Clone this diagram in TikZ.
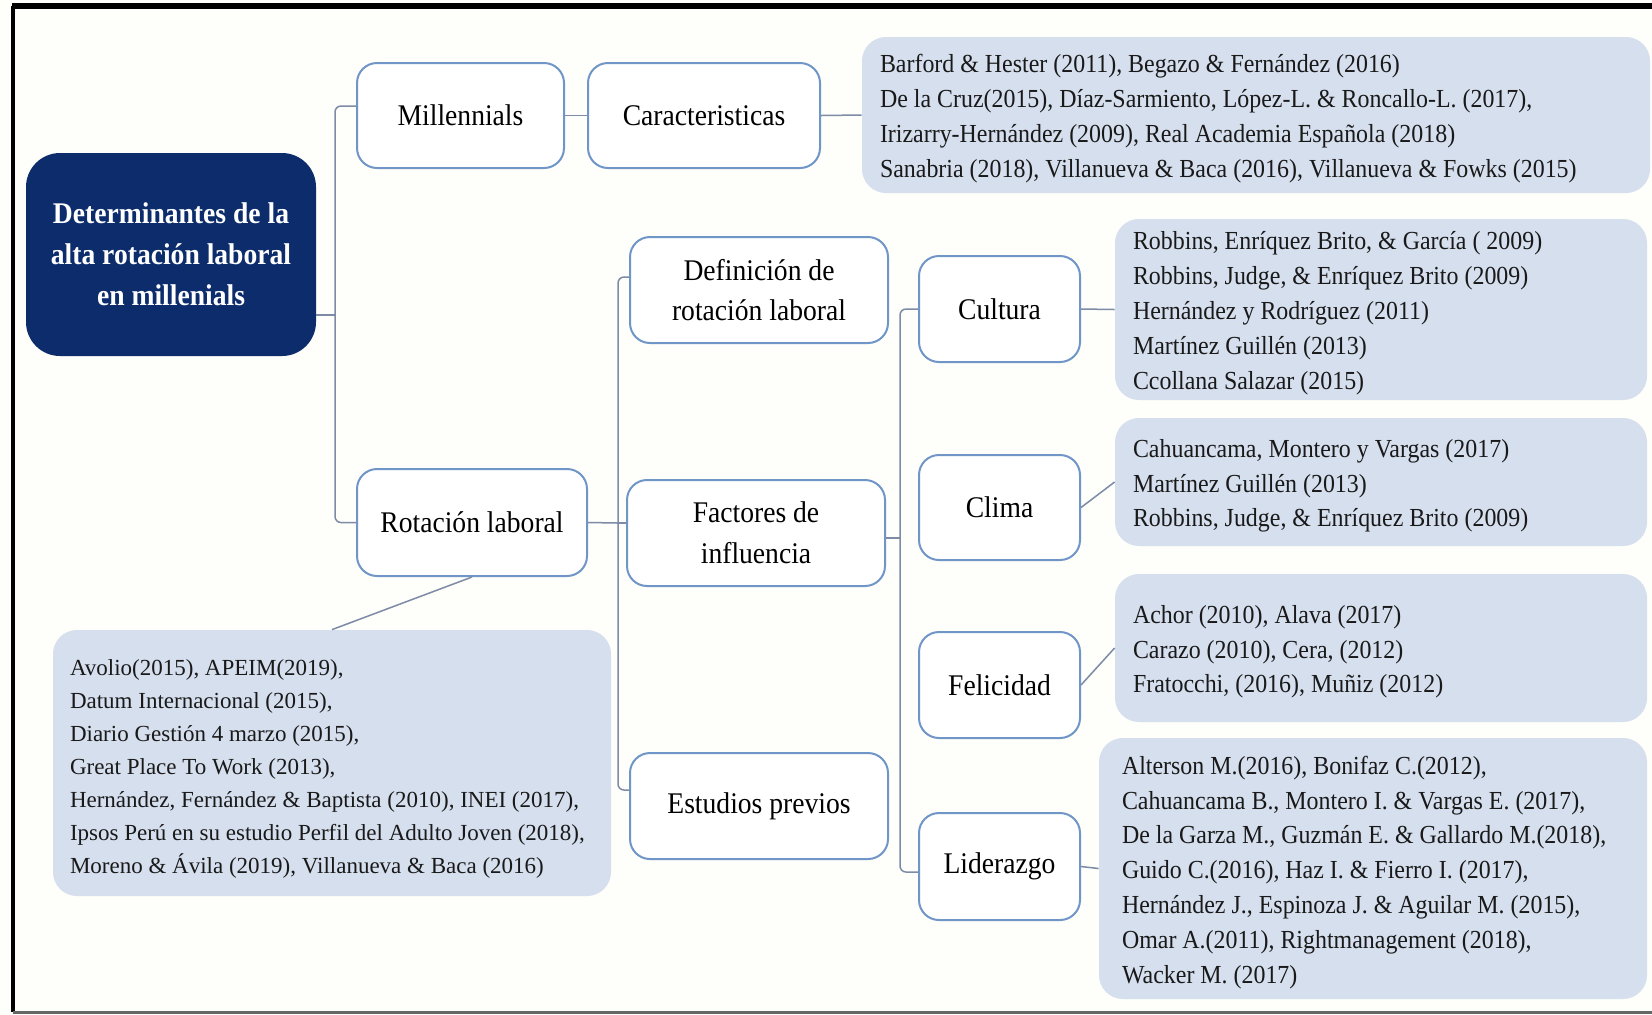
\documentclass[tikz,border=0pt]{standalone}
\usepackage{fontspec}
\setmainfont{Liberation Serif}
\newfontfamily\boxfont[FakeStretch=0.92]{Liberation Serif}
\newfontfamily\reffont[FakeStretch=0.92]{Liberation Serif}
\definecolor{bgcol}{HTML}{FEFEFA}
\definecolor{nodeblue}{HTML}{7096C8}
\definecolor{rootblue}{HTML}{0C2C6C}
\definecolor{reffill}{HTML}{D6DFEE}
\definecolor{conncol}{HTML}{7D8BA6}
\begin{document}
\begin{tikzpicture}[x=0.5pt,y=-0.5pt,
  sz/.style 2 args={minimum width=#1*0.5pt, minimum height=#2*0.5pt},
  box/.style={draw=nodeblue, line width=1pt, fill=white, rounded corners=10pt,
    align=center, inner sep=0pt, font=\boxfont\fontsize{15}{20.3}\selectfont},
  rootbox/.style={fill=rootblue, rounded corners=17pt, align=center, inner sep=0pt,
    text=white, font=\boxfont\bfseries\fontsize{15}{20.5}\selectfont},
  refbox/.style={fill=reffill, rounded corners=12pt, inner sep=0pt},
  reftext/.style={anchor=west, align=left, inner sep=0pt, text=black!90,
    font=\reffont\fontsize{13}{17.4}\selectfont},
  reftextb/.style={anchor=west, align=left, inner sep=0pt, text=black!90,
    font=\fontsize{11.5}{16.5}\selectfont},
  conn/.style={draw=conncol, line width=0.75pt}]
\useasboundingbox (0,0) rectangle (1652,1014);
\fill[bgcol] (0,0) rectangle (1652,1014);
% frame
\draw[line width=2pt, black] (13,1012) -- (13,6);
\draw[line width=2.75pt, black] (12,6) -- (1652,6);
\draw[line width=1.5pt, black!60] (13,1012) -- (1652,1012);

% nodes
\node[rootbox, sz={290}{203}] (root) at (171,254.5) {Determinantes de la\\alta rotación laboral\\en millenials};
\node[box, sz={207}{105}] (mil) at (460.5,115.5) {Millennials};
\node[box, sz={232}{105}] (car) at (704,115.5) {Caracteristicas};
\node[refbox, sz={788}{156}] (carref) at (1256,115) {};
\node[reftext] (carreft) at ([xshift=9pt,yshift=-1.9pt]carref.west)
  {Barford \& Hester (2011), Begazo \& Fernández (2016)\\De la Cruz(2015), Díaz-Sarmiento, López-L. \& Roncallo-L. (2017),\\Irizarry-Hernández (2009), Real Academia Española (2018)\\Sanabria (2018), Villanueva \& Baca (2016), Villanueva \& Fowks (2015)};
\node[box, sz={230}{107}] (rot) at (472,522.5) {Rotación laboral};
\node[refbox, sz={558}{266}] (rotref) at (332,763) {};
\node[reftextb] (rotreft) at ([xshift=8.5pt,yshift=-3.2pt]rotref.west)
  {Avolio(2015), APEIM(2019),\\Datum Internacional (2015),\\Diario Gestión 4 marzo (2015),\\Great Place To Work (2013),\\Hernández, Fernández \& Baptista (2010), INEI (2017),\\Ipsos Perú en su estudio Perfil del Adulto Joven (2018),\\Moreno \& Ávila (2019), Villanueva \& Baca (2016)};
\node[box, sz={258}{106}] (def) at (759,290) {Definición de\\rotación laboral};
\node[box, sz={258}{106}] (fac) at (756,533) {Factores de\\influencia};
\node[box, sz={258}{106}] (est) at (759,806) {Estudios previos};
\node[box, sz={161}{106}] (cul) at (999.5,309) {Cultura};
\node[box, sz={161}{105}] (cli) at (999.5,507.5) {Clima};
\node[box, sz={161}{106}] (fel) at (999.5,685) {Felicidad};
\node[box, sz={161}{107}] (lid) at (999.5,866.5) {Liderazgo};
\node[refbox, sz={532}{181}] (culref) at (1381,309.5) {};
\node[reftext] (culreft) at ([xshift=9pt,yshift=-1.9pt]culref.west)
  {Robbins, Enríquez Brito, \& García ( 2009)\\Robbins, Judge, \& Enríquez Brito (2009)\\Hernández y Rodríguez (2011)\\Martínez Guillén (2013)\\Ccollana Salazar (2015)};
\node[refbox, sz={532}{128}] (cliref) at (1381,482) {};
\node[reftext] (clireft) at ([xshift=9pt,yshift=-1.9pt]cliref.west)
  {Cahuancama, Montero y Vargas (2017)\\Martínez Guillén (2013)\\Robbins, Judge, \& Enríquez Brito (2009)};
\node[refbox, sz={532}{148}] (felref) at (1381,648) {};
\node[reftext] (felreft) at ([xshift=9pt,yshift=-1.9pt]felref.west)
  {Achor (2010), Alava (2017)\\Carazo (2010), Cera, (2012)\\Fratocchi, (2016), Muñiz (2012)};
\node[refbox, sz={548}{261}] (lidref) at (1373,868.5) {};
\node[reftext] (lidreft) at ([xshift=11.5pt,yshift=-1.9pt]lidref.west)
  {Alterson M.(2016), Bonifaz C.(2012),\\Cahuancama B., Montero I. \& Vargas E. (2017),\\De la Garza M., Guzmán E. \& Gallardo M.(2018),\\Guido C.(2016), Haz I. \& Fierro I. (2017),\\Hernández J., Espinoza J. \& Aguilar M. (2015),\\Omar A.(2011), Rightmanagement (2018),\\Wacker M. (2017)};

% connectors
\coordinate (b1) at (335,315);
\draw[conn] ([yshift=-30.25pt]root.east) -- (b1);
\draw[conn, rounded corners=3pt] ([yshift=4.75pt]mil.west) -| (b1) |- (rot.west);
\draw[conn] (mil.east) -- (car.west);
\draw[conn] (car.east) -- (carref.west);
\draw[conn] (rot.south) -- (rotref.north);

\coordinate (b2) at (618,523);
\draw[conn] (rot.east) -- (b2);
\draw[conn, rounded corners=3pt] ([yshift=6.5pt]def.west) -| (b2) |- ([yshift=8pt]est.west);
\draw[conn] (b2) -- (b2 -| fac.west);

\coordinate (b3) at (900,538);
\draw[conn] ([yshift=-2.5pt]fac.east) -- (b3);
\draw[conn, rounded corners=3pt] (cul.west) -| (b3) |- ([yshift=-2.75pt]lid.west);
\draw[conn] (cul.east) -- (culref.west);
\draw[conn] (cli.east) -- (cliref.west);
\draw[conn] (fel.east) -- (felref.west);
\draw[conn] (lid.east) -- (lidref.west);
\end{tikzpicture}
\end{document}
